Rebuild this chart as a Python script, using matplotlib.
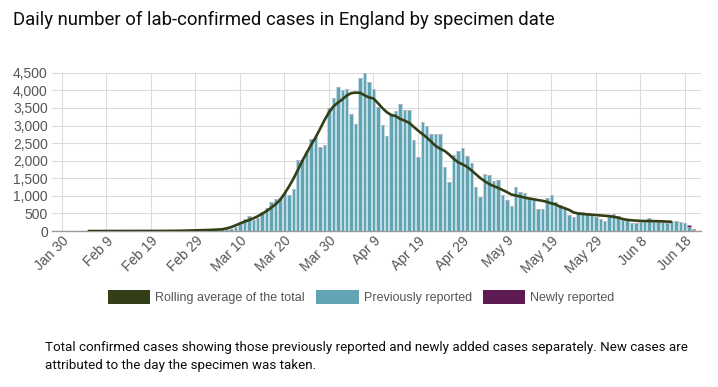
import matplotlib

matplotlib.use("Agg")

import matplotlib.dates as mdates
import matplotlib.pyplot as plt
import numpy as np
import pandas as pd
from matplotlib.patches import Patch
from matplotlib.ticker import FuncFormatter, MultipleLocator

# Specimen dates start on Feb 5 2020
first_day = "2020-02-05"

previously_reported = [
    1, 0, 0, 1,
    0, 1, 1, 2, 1, 0, 0, 1, 1, 2,
    2, 3, 4, 3, 5, 8, 10, 14, 18, 20,
    20, 25, 30, 40, 45, 55, 60, 50, 55, 120,
    210, 350, 420, 320, 380, 550, 665, 820, 910, 930,
    1073, 1025, 1205, 2022, 2022, 2270, 2615, 2668, 2383, 2440,
    3500, 3778, 4095, 4020, 4050, 3331, 3047, 4340, 4490, 4248,
    4034, 3521, 3005, 2700, 3290, 3425, 3616, 3440, 3432, 2588,
    2093, 3090, 2995, 2758, 2763, 2772, 1814, 1400, 2165, 2288,
    2354, 2127, 1940, 1244, 959, 1618, 1604, 1433, 1440, 1020,
    883, 720, 1243, 1096, 1068, 930, 883, 627, 627, 930,
    1025, 820, 730, 660, 456, 385, 540, 540, 512, 465,
    385, 332, 294, 430, 480, 430, 325, 305, 218, 218,
    266, 266, 361, 266, 266, 266, 218, 266, 294, 266,
    218, 110, 20,
]
newly_reported = [0] * 134 + [0, 50, 45]

rolling_avg = [
    0, 0, 0, 0, 0, 0, 0, 0, 1, 1,
    1, 1, 1, 1, 2, 2, 3, 3, 4, 5,
    7, 9, 12, 15, 18, 22, 26, 30, 36, 42,
    50, 75, 110, 160, 215, 265, 310, 360, 420, 490,
    570, 660, 760, 880, 1060, 1260, 1480, 1730, 1990, 2220,
    2450, 2660, 2900, 3150, 3370, 3540, 3650, 3740, 3850, 3920,
    3935, 3930, 3860, 3800, 3770, 3640, 3500, 3380, 3300, 3270,
    3190, 3140, 3080, 2970, 2860, 2760, 2660, 2540, 2420, 2340,
    2280, 2180, 2060, 1960, 1900, 1830, 1730, 1620, 1510, 1420,
    1340, 1280, 1230, 1170, 1110, 1040, 1010, 985, 950, 925,
    905, 880, 860, 830, 785, 755, 690, 650, 600, 530,
    500, 485, 475, 465, 455, 445, 435, 425, 405, 380,
    345, 320, 305, 295, 288, 285, 283, 282, 280, 276,
    270, 262,
]

title = "Daily number of lab-confirmed cases in England by specimen date"
caption = ("Total confirmed cases showing those previously reported and newly added cases separately. New cases are\n"
           "attributed to the day the specimen was taken.")
legend_labels = ["Rolling average of the total", "Previously reported", "Newly reported"]

bar_color = "#62a4b4"
bar_edge = "#c3dfe6"
new_color = "#5e1a52"
line_color = "#333f16"
text_grey = "#555555"

dates = pd.date_range(first_day, periods=len(previously_reported), freq="D")
line_dates = dates[: len(rolling_avg)]

fig = plt.figure(figsize=(7.18, 3.87), dpi=100)
ax = fig.add_axes([0.0724, 0.403, 0.9036, 0.409])

prev = np.array(previously_reported)
new = np.array(newly_reported)
ax.bar(dates, prev, width=0.78, color=bar_color, edgecolor=bar_edge, linewidth=0.6, zorder=2)
ax.bar(dates, new, bottom=prev, width=0.78, color=new_color, edgecolor="#b9a3b5",
       linewidth=0.6, zorder=2)
ax.plot(line_dates, rolling_avg, color=line_color, linewidth=1.9, zorder=3,
        solid_capstyle="round")

start = pd.Timestamp("2020-01-30")
ax.set_xlim(start - pd.Timedelta(days=2.25), start + pd.Timedelta(days=143.6))
ax.set_ylim(0, 4500)

ticks = pd.date_range(start, periods=15, freq="10D")
ax.set_xticks(ticks)
ax.xaxis.set_major_formatter(mdates.DateFormatter("%b %-d"))
ax.yaxis.set_major_locator(MultipleLocator(500))
ax.yaxis.set_major_formatter(FuncFormatter(lambda v, _: f"{int(v):,}"))

ax.grid(True, color="#dcdcdc", linewidth=0.8, zorder=0)
ax.set_axisbelow(True)
for side in ["top", "right", "left"]:
    ax.spines[side].set_visible(False)
ax.spines["bottom"].set_color("#9a9a9a")
ax.spines["bottom"].set_linewidth(1)
ax.tick_params(axis="both", length=0, colors=text_grey, labelsize=10)
ax.tick_params(axis="y", pad=3)
ax.tick_params(axis="x", pad=2)
for lab in ax.get_yticklabels():
    lab.set_family("Liberation Sans")
for lab in ax.get_xticklabels():
    lab.set_family("Liberation Sans")
    lab.set_rotation(45)
    lab.set_ha("right")
    lab.set_va("top")
    lab.set_rotation_mode("anchor")

handles = [Patch(facecolor=line_color), Patch(facecolor=bar_color), Patch(facecolor=new_color)]
fig.legend(handles, legend_labels, loc="center", bbox_to_anchor=(0.503, 0.232), ncol=3,
           frameon=False, handlelength=3.4, handleheight=1.3, handletextpad=0.4,
           columnspacing=0.9, prop={"family": "Liberation Sans", "size": 9},
           labelcolor=text_grey)

fig.text(0.018, 0.972, title, fontsize=13.3, family="Roboto", color="#0b0c0c", va="top")
fig.text(0.063, 0.118, caption, fontsize=9.6, family="Roboto", color="#0b0c0c",
         va="top", linespacing=1.45)

fig.savefig("out.png", dpi=100)
